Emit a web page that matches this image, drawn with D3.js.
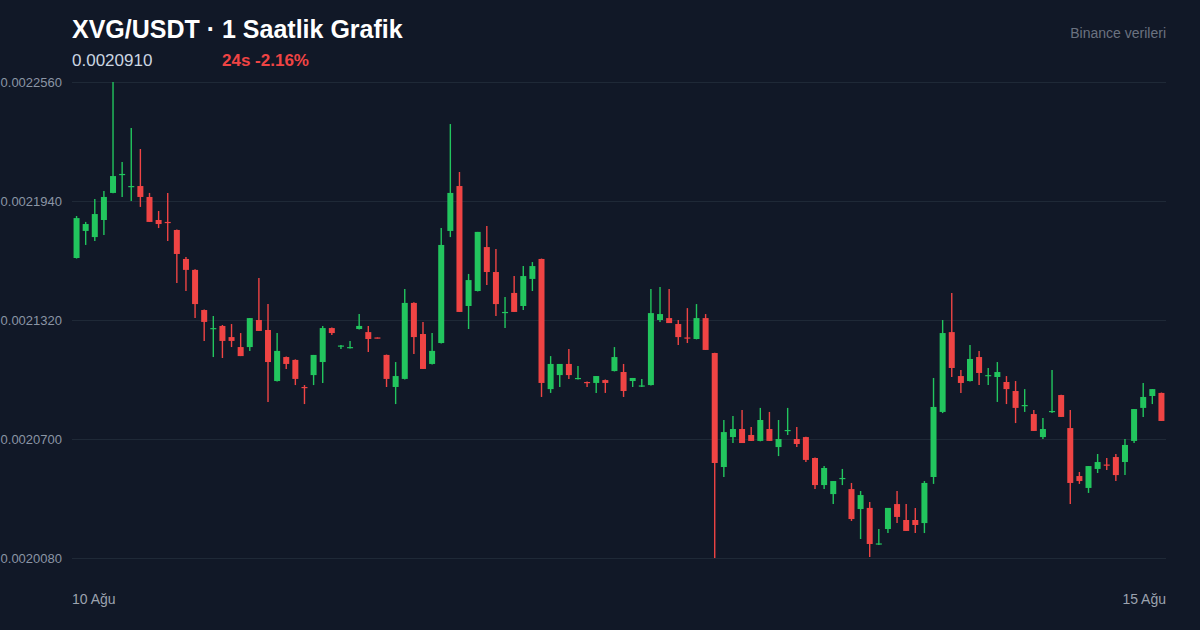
<!DOCTYPE html>
<html>
<head>
<meta charset="utf-8">
<script src="https://cdn.jsdelivr.net/npm/d3@7"></script>
<style>
  html, body { margin: 0; padding: 0; background: #111827; }
  svg { display: block; font-family: Arial, "Liberation Sans", Helvetica, sans-serif; }
</style>
</head>
<body>
<svg id="chart" width="1200" height="630"></svg>
<script>
// ---- Data (XVG/USDT, 1h candles) ----
const opens = [
 0.0021643,0.0021784,0.0021752,0.0021841,0.0021982,0.0022076,0.0022013,0.0022018,0.0021961,0.0021841,
 0.0021831,0.0021789,0.0021638,0.0021581,0.0021372,0.0021273,0.0021289,0.0021231,0.0021179,0.0021179,
 0.0021320,0.0021268,0.0021002,0.0021127,0.0021112,0.0020971,0.0021033,0.0021101,0.0021278,0.0021182,
 0.0021174,0.0021273,0.0021257,0.0021229,0.0021138,0.0020971,0.0021013,0.0021409,0.0021247,0.0021091,
 0.0021200,0.0021784,0.0022018,0.0021393,0.0021471,0.0021700,0.0021570,0.0021356,0.0021461,0.0021393,
 0.0021534,0.0021638,0.0020960,0.0021033,0.0021091,0.0021013,0.0020997,0.0020992,0.0021007,0.0021054,
 0.0021049,0.0021002,0.0020973,0.0020981,0.0021320,0.0021330,0.0021299,0.0021229,0.0021221,0.0021330,
 0.0021148,0.0020554,0.0020710,0.0020752,0.0020721,0.0020690,0.0020752,0.0020658,0.0020742,0.0020700,
 0.0020710,0.0020601,0.0020460,0.0020413,0.0020492,0.0020439,0.0020335,0.0020341,0.0020150,0.0020231,
 0.0020361,0.0020278,0.0020278,0.0020262,0.0020502,0.0020841,0.0021257,0.0021028,0.0021002,0.0021127,
 0.0021028,0.0021023,0.0020997,0.0020950,0.0020872,0.0020830,0.0020710,0.0020841,0.0020929,0.0020757,
 0.0020507,0.0020445,0.0020544,0.0020567,0.0020606,0.0020580,0.0020690,0.0020862,0.0020924,0.0020940
];
const highs = [
 0.0021862,0.0021831,0.0021950,0.0021992,0.0022560,0.0022143,0.0022320,0.0022211,0.0021982,0.0021888,
 0.0021982,0.0021792,0.0021648,0.0021584,0.0021375,0.0021341,0.0021294,0.0021299,0.0021252,0.0021330,
 0.0021539,0.0021403,0.0021252,0.0021130,0.0021115,0.0020981,0.0021138,0.0021289,0.0021281,0.0021190,
 0.0021211,0.0021351,0.0021289,0.0021229,0.0021140,0.0021101,0.0021481,0.0021412,0.0021310,0.0021252,
 0.0021799,0.0022341,0.0022091,0.0021560,0.0021779,0.0021810,0.0021690,0.0021440,0.0021549,0.0021601,
 0.0021622,0.0021640,0.0021132,0.0021091,0.0021169,0.0021080,0.0021000,0.0021028,0.0021010,0.0021179,
 0.0021091,0.0021018,0.0021013,0.0021481,0.0021492,0.0021481,0.0021320,0.0021382,0.0021403,0.0021351,
 0.0021150,0.0020799,0.0020820,0.0020851,0.0020763,0.0020862,0.0020841,0.0020799,0.0020862,0.0020763,
 0.0020712,0.0020603,0.0020559,0.0020481,0.0020544,0.0020471,0.0020429,0.0020372,0.0020231,0.0020341,
 0.0020429,0.0020361,0.0020341,0.0020481,0.0021018,0.0021320,0.0021461,0.0021060,0.0021190,0.0021159,
 0.0021070,0.0021101,0.0021028,0.0021002,0.0020960,0.0020851,0.0020809,0.0021060,0.0020931,0.0020851,
 0.0020528,0.0020559,0.0020622,0.0020601,0.0020622,0.0020700,0.0020856,0.0020992,0.0020960,0.0020942
];
const lows = [
 0.0021640,0.0021711,0.0021732,0.0021763,0.0021980,0.0021961,0.0021940,0.0021909,0.0021831,0.0021799,
 0.0021732,0.0021513,0.0021471,0.0021330,0.0021211,0.0021127,0.0021122,0.0021179,0.0021132,0.0021159,
 0.0021263,0.0020893,0.0021000,0.0021065,0.0020981,0.0020882,0.0020981,0.0020992,0.0021242,0.0021169,
 0.0021172,0.0021270,0.0021153,0.0021224,0.0020971,0.0020882,0.0021010,0.0021143,0.0021065,0.0021088,
 0.0021198,0.0021752,0.0021362,0.0021273,0.0021469,0.0021502,0.0021341,0.0021278,0.0021362,0.0021372,
 0.0021471,0.0020919,0.0020940,0.0020971,0.0021013,0.0021010,0.0020971,0.0020940,0.0020940,0.0021052,
 0.0020919,0.0020971,0.0020971,0.0020979,0.0021310,0.0021304,0.0021190,0.0021200,0.0021219,0.0021164,
 0.0020080,0.0020502,0.0020679,0.0020679,0.0020690,0.0020688,0.0020690,0.0020611,0.0020721,0.0020658,
 0.0020580,0.0020439,0.0020439,0.0020361,0.0020460,0.0020273,0.0020179,0.0020085,0.0020148,0.0020210,
 0.0020262,0.0020221,0.0020210,0.0020210,0.0020466,0.0020835,0.0021023,0.0020940,0.0021000,0.0020981,
 0.0020981,0.0020893,0.0020882,0.0020783,0.0020841,0.0020742,0.0020700,0.0020835,0.0020815,0.0020361,
 0.0020466,0.0020419,0.0020523,0.0020538,0.0020481,0.0020512,0.0020679,0.0020815,0.0020882,0.0020794
];
const closes = [
 0.0021851,0.0021820,0.0021872,0.0021961,0.0022070,0.0022081,0.0022018,0.0021961,0.0021831,0.0021820,
 0.0021825,0.0021664,0.0021581,0.0021403,0.0021310,0.0021278,0.0021211,0.0021211,0.0021132,0.0021330,
 0.0021263,0.0021101,0.0021159,0.0021091,0.0021013,0.0020966,0.0021138,0.0021278,0.0021252,0.0021187,
 0.0021179,0.0021289,0.0021221,0.0021224,0.0021013,0.0021028,0.0021409,0.0021231,0.0021065,0.0021159,
 0.0021711,0.0021982,0.0021362,0.0021528,0.0021779,0.0021570,0.0021403,0.0021362,0.0021362,0.0021549,
 0.0021601,0.0020992,0.0021091,0.0021091,0.0021033,0.0021018,0.0020992,0.0021028,0.0020992,0.0021127,
 0.0020950,0.0021018,0.0020979,0.0021356,0.0021351,0.0021304,0.0021231,0.0021224,0.0021330,0.0021164,
 0.0020575,0.0020736,0.0020752,0.0020679,0.0020690,0.0020799,0.0020690,0.0020700,0.0020747,0.0020674,
 0.0020591,0.0020460,0.0020549,0.0020481,0.0020497,0.0020283,0.0020408,0.0020153,0.0020156,0.0020341,
 0.0020294,0.0020221,0.0020252,0.0020471,0.0020867,0.0021252,0.0021070,0.0020992,0.0021117,0.0021044,
 0.0021033,0.0021049,0.0020960,0.0020862,0.0020877,0.0020742,0.0020752,0.0020846,0.0020815,0.0020471,
 0.0020481,0.0020559,0.0020580,0.0020562,0.0020512,0.0020669,0.0020856,0.0020919,0.0020960,0.0020794
];
const yTickValues = [0.0020080, 0.0020700, 0.0021320, 0.0021940, 0.0022560];
const xTickLabels = ["10 Ağu", "15 Ağu"];
const titleText = "XVG/USDT · 1 Saatlik Grafik";
const lastPriceText = "0.0020910";
const changeText = "24s -2.16%";
const sourceText = "Binance verileri";

// ---- Drawing ----
(function () {
const W = 1200, H = 630;
const plotLeft = 72, plotRight = 1166, plotTop = 82, plotBottom = 558;
const up = "#22c55e", down = "#ef4444";

const svg = d3.select("#chart");
svg.append("rect").attr("width", W).attr("height", H).attr("fill", "#111827");

const n = opens.length;
const candles = d3.range(n).map(i => ({i, o: opens[i], h: highs[i], l: lows[i], c: closes[i]}));

const x = d3.scaleBand().domain(d3.range(n)).range([plotLeft, plotRight]).paddingInner(0).paddingOuter(0);
const y = d3.scaleLinear().domain([d3.min(lows), d3.max(highs)]).range([plotBottom, plotTop]);

// grid
svg.append("g").selectAll("line").data(yTickValues).join("line")
  .attr("x1", plotLeft).attr("x2", plotRight)
  .attr("y1", d => Math.round(y(d)) + 0.5).attr("y2", d => Math.round(y(d)) + 0.5)
  .attr("stroke", "#1f2937").attr("stroke-width", 1);

// y axis labels
svg.append("g").selectAll("text").data(yTickValues).join("text")
  .attr("x", 62).attr("y", d => y(d))
  .attr("dy", "0.35em")
  .attr("text-anchor", "end")
  .attr("font-size", 13)
  .attr("fill", "#8b95a5")
  .text(d => d.toFixed(7));

// candles
const bodyW = 6;
const cg = svg.append("g").selectAll("g").data(candles).join("g");
const cx = d => x(d.i) + x.bandwidth() / 2;
cg.append("line")
  .attr("x1", cx).attr("x2", cx)
  .attr("y1", d => y(d.h)).attr("y2", d => y(d.l))
  .attr("stroke", d => d.c >= d.o ? up : down)
  .attr("stroke-width", 1.4);
cg.append("rect")
  .attr("x", d => cx(d) - bodyW / 2)
  .attr("width", bodyW)
  .attr("y", d => y(Math.max(d.o, d.c)))
  .attr("height", d => Math.max(1.2, Math.abs(y(d.o) - y(d.c))))
  .attr("fill", d => d.c >= d.o ? up : down);

// x labels
svg.append("text").attr("x", plotLeft).attr("y", 604).attr("font-size", 14)
  .attr("fill", "#9ca3af").attr("text-anchor", "start").text(xTickLabels[0]);
svg.append("text").attr("x", plotRight).attr("y", 604).attr("font-size", 14)
  .attr("fill", "#9ca3af").attr("text-anchor", "end").text(xTickLabels[1]);

// header
svg.append("text").attr("x", 72).attr("y", 38).attr("font-size", 25).attr("font-weight", "bold")
  .attr("fill", "#ffffff").text(titleText);
svg.append("text").attr("x", 72).attr("y", 66).attr("font-size", 17)
  .attr("fill", "#cbd5e1").text(lastPriceText);
svg.append("text").attr("x", 222).attr("y", 66).attr("font-size", 17).attr("font-weight", "bold")
  .attr("fill", down).text(changeText);
svg.append("text").attr("x", plotRight).attr("y", 38).attr("font-size", 14)
  .attr("fill", "#6b7280").attr("text-anchor", "end").text(sourceText);
})();
</script>
</body>
</html>
